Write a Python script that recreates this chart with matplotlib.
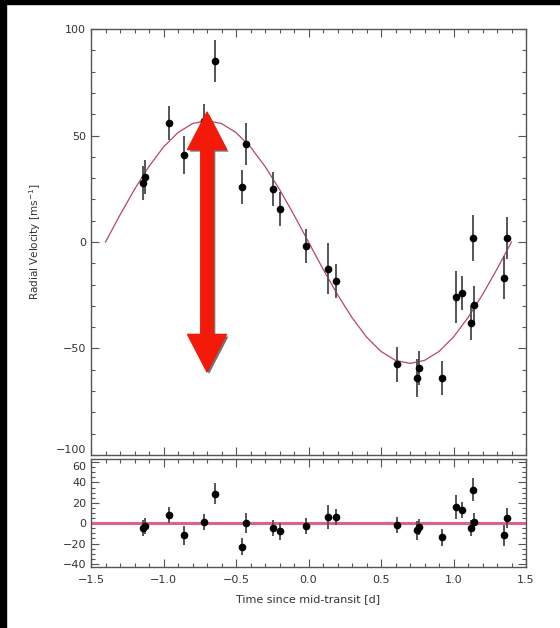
import matplotlib.pyplot as plt
import matplotlib.patheffects as pe
from matplotlib.patches import FancyArrowPatch, Rectangle
from matplotlib.ticker import MultipleLocator

# observations (time since mid-transit [d], RV [m/s], error [m/s])
t_obs = [-1.14, -1.13, -0.96, -0.86, -0.72, -0.645, -0.46, -0.43, -0.245, -0.20,
         -0.02, 0.135, 0.19, 0.61, 0.75, 0.76, 0.92, 1.017, 1.06, 1.12,
         1.135, 1.14, 1.35, 1.37]
rv_obs = [27.6, 30.4, 56.0, 41.0, 57.0, 85.0, 25.8, 46.0, 25.0, 15.5,
          -2.0, -12.6, -18.2, -57.5, -64.0, -59.0, -64.0, -25.8, -24.0, -37.8,
          1.9, -29.5, -16.8, 1.9]
rv_err = [8, 8, 8, 9, 8, 10, 8, 10, 8, 8,
          8, 12, 8, 8, 9, 8, 8, 12, 8, 8,
          11, 9, 10, 10]
resid = [-5, -3, 8, -12, 1, 29, -23, 0, -5, -8,
         -3, 6, 6, -2, -7, -4, -14, 16, 13, -5,
         33, 1, -12, 5]

# fitted orbit
t_model = [-1.4, -1.3, -1.2, -1.1, -1.0, -0.9, -0.8, -0.7, -0.6, -0.5,
           -0.4, -0.3, -0.2, -0.1, 0.0, 0.1, 0.2, 0.3, 0.4, 0.5,
           0.6, 0.7, 0.8, 0.9, 1.0, 1.1, 1.2, 1.3, 1.4]
rv_model = [0.0, 12.7, 24.7, 35.5, 44.6, 51.4, 55.6, 57.0, 55.6, 51.4,
            44.6, 35.5, 24.7, 12.7, 0.0, -12.7, -24.7, -35.5, -44.6, -51.4,
            -55.6, -57.0, -55.6, -51.4, -44.6, -35.5, -24.7, -12.7, 0.0]

# amplitude arrow (x, low, high)
arrow_t = -0.70
arrow_lo, arrow_hi = -61, 61

fig = plt.figure(figsize=(5.6, 6.28), dpi=100)
ax1 = fig.add_axes([0.1625, 0.2755, 0.7768, 0.6783])
ax2 = fig.add_axes([0.1625, 0.0971, 0.7768, 0.1720])

axis_col = '#555555'
text_col = '#333333'
fs = 8

for ax in (ax1, ax2):
    ax.set_xlim(-1.5, 1.5)
    ax.xaxis.set_major_locator(MultipleLocator(0.5))
    ax.xaxis.set_minor_locator(MultipleLocator(0.1))
    ax.tick_params(which='both', direction='in', top=True, right=True,
                   color=axis_col, labelcolor=text_col, labelsize=fs, width=0.8)
    ax.tick_params(which='major', length=6)
    ax.tick_params(which='minor', length=3)
    ax.tick_params(axis='x', pad=6)
    for s in ax.spines.values():
        s.set_color(axis_col)
        s.set_linewidth(1.0)

# top panel: RV curve
ax1.plot(t_model, rv_model, color='#bb4466', lw=0.9, zorder=2)
ax1.errorbar(t_obs, rv_obs, yerr=rv_err, fmt='o', color='k', ms=4.5,
             ecolor='#555555', elinewidth=1.4, capsize=0, zorder=3)
ax1.set_ylim(-100, 100)
ax1.yaxis.set_major_locator(MultipleLocator(50))
ax1.yaxis.set_minor_locator(MultipleLocator(10))
ax1.tick_params(labelbottom=False)
ax1.set_ylabel(r'Radial Velocity [ms$^{-1}$]', fontsize=7.5, color=text_col, labelpad=9)

# red double arrow marking the amplitude
shadow = [pe.SimplePatchShadow(offset=(1.5, -1.5), shadow_rgbFace='k', alpha=0.55), pe.Normal()]
for end in (arrow_hi, arrow_lo):
    arr = FancyArrowPatch((arrow_t, 0), (arrow_t, end), mutation_scale=1,
                          arrowstyle='simple,head_length=27,head_width=28,tail_width=9',
                          color='#f41a0a', shrinkA=0, shrinkB=0, zorder=5)
    arr.set_path_effects(shadow)
    ax1.add_patch(arr)

# bottom panel: residuals
ax2.axhline(0, color='#e0608c', lw=2.2, zorder=2)
ax2.errorbar(t_obs, resid, yerr=rv_err, fmt='o', color='k', ms=4.5,
             ecolor='#555555', elinewidth=1.4, capsize=0, zorder=3)
ax2.set_ylim(-43, 63)
ax2.yaxis.set_major_locator(MultipleLocator(20))
ax2.yaxis.set_minor_locator(MultipleLocator(5))
ax2.set_xlabel('Time since mid-transit [d]', fontsize=fs, color=text_col, labelpad=6)

# the -100 and 60 labels sit just either side of the panel gap
fig.canvas.draw()
for tick in ax1.yaxis.get_major_ticks():
    if abs(tick.get_loc() + 100) < 1e-6:
        tick.label1.set_va('bottom')
for tick in ax2.yaxis.get_major_ticks():
    if abs(tick.get_loc() - 60) < 1e-6:
        tick.label1.set_va('top')

# black frame on left and top of the original image
fig.patches.append(Rectangle((0, 0), 6 / 560, 1, transform=fig.transFigure, color='k', zorder=10))
fig.patches.append(Rectangle((0, 1 - 4 / 628), 1, 4 / 628, transform=fig.transFigure, color='k', zorder=10))

fig.savefig('out.png', dpi=100)
